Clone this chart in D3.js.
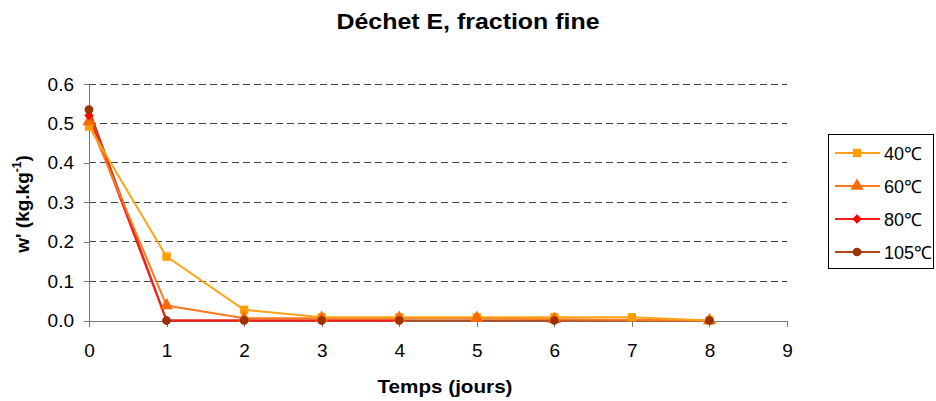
<!DOCTYPE html>
<html lang="fr">
<head>
<meta charset="UTF-8">
<title>Déchet E, fraction fine</title>
<script src="https://cdn.jsdelivr.net/npm/d3@7"></script>
<style>
  body { margin: 0; background: #fff; }
  text { font-family: "Liberation Sans", Arial, sans-serif; }
</style>
</head>
<body>
<div id="grafica"></div>
<script>
// données
jours = [0, 1, 2, 3, 4, 5, 6, 7, 8]
w40  = [0.492, 0.162, 0.027, 0.008, 0.008, 0.008, 0.008, 0.008, 0]
w60  = [0.505, 0.038, 0.006, 0.006, 0.006, 0.006, 0.003, null, 0]
w80  = [0.520, 0, 0, 0, 0, null, null, null, null]
w105 = [0.535, 0, 0, 0, 0, null, 0, null, 0]
yTicks = [0, 0.1, 0.2, 0.3, 0.4, 0.5, 0.6]
xTicks = [0, 1, 2, 3, 4, 5, 6, 7, 8, 9]

// rot: angle du symbole (le losange est un carré tourné)
series = [
  { name: '40℃',  values: w40,  line: '#FFA31A', fill: '#FF9E00', shape: d3.symbolSquare,   size: 70, rot: 0 },
  { name: '60℃',  values: w60,  line: '#FF7A1F', fill: '#FF6A00', shape: d3.symbolTriangle, size: 75, rot: 0 },
  { name: '80℃',  values: w80,  line: '#FF1A1A', fill: '#FF0000', shape: d3.symbolSquare,   size: 45, rot: 45 },
  { name: '105℃', values: w105, line: '#B5461B', fill: '#993300', shape: d3.symbolCircle,   size: 60, rot: 0 }
]

ancho_total = 936
alto_total  = 401
margin = { left: 89, right: 149, top: 84, bottom: 80.5 }
ancho = ancho_total - margin.left - margin.right
alto  = alto_total - margin.top - margin.bottom

svg = d3.select('#grafica')
  .append('svg')
  .attr('width', ancho_total)
  .attr('height', alto_total)

g = svg.append('g')
  .attr('transform', `translate(${margin.left},${margin.top})`)

x = d3.scaleLinear().domain([0, 9]).range([0, ancho])
y = d3.scaleLinear().domain([0, 0.6]).range([alto, 0])

// grille
g.selectAll('.grid')
  .data(yTicks.filter(d => d > 0))
  .enter().append('line')
  .attr('x1', 0).attr('x2', ancho)
  .attr('y1', d => y(d)).attr('y2', d => y(d))
  .attr('stroke', '#444')
  .attr('stroke-width', 1)
  .attr('stroke-dasharray', '7,4')
  .attr('shape-rendering', 'crispEdges')

// axes
yAxis = g.append('g')
  .call(d3.axisLeft(y).tickValues(yTicks).tickFormat(d3.format('.1f')).tickSizeOuter(0).tickSize(5).tickPadding(10))
xAxis = g.append('g')
  .attr('transform', `translate(0,${alto})`)
  .call(d3.axisBottom(x).tickValues(xTicks).tickSizeOuter(0).tickSize(6).tickPadding(17))
g.selectAll('.domain, .tick line').attr('stroke', '#777').attr('shape-rendering', 'crispEdges')
g.selectAll('.tick text').attr('font-size', 19).attr('fill', '#000')
  .attr('font-family', '"Liberation Sans", Arial, sans-serif')

// courbes
linea = d3.line()
  .x(d => x(d.t))
  .y(d => y(d.v))

series.slice().reverse().forEach(s => {
  pts = jours.map((t, i) => ({ t: t, v: s.values[i] })).filter(d => d.v !== null)
  g.append('path')
    .attr('fill', 'none')
    .attr('stroke', s.line)
    .attr('stroke-width', 2)
    .attr('d', linea(pts))
})
// marqueurs : 105℃ dessus, comme dans l'original
series.forEach(s => {
  pts = jours.map((t, i) => ({ t: t, v: s.values[i] })).filter(d => d.v !== null)
  g.selectAll(null)
    .data(pts)
    .enter().append('path')
    .attr('d', d3.symbol().type(s.shape).size(s.size))
    .attr('transform', d => `translate(${x(d.t)},${y(d.v)}) rotate(${s.rot})`)
    .attr('fill', s.fill)
})

// titres
svg.append('text')
  .attr('x', 468).attr('y', 29)
  .attr('text-anchor', 'middle')
  .attr('font-size', 22).attr('font-weight', 'bold')
  .attr('textLength', 263).attr('lengthAdjust', 'spacingAndGlyphs')
  .text('Déchet E, fraction fine')

svg.append('text')
  .attr('x', 445).attr('y', 393)
  .attr('text-anchor', 'middle')
  .attr('font-size', 19).attr('font-weight', 'bold')
  .attr('textLength', 135).attr('lengthAdjust', 'spacingAndGlyphs')
  .text('Temps (jours)')

yt = svg.append('text')
  .attr('transform', `translate(29,204) rotate(-90)`)
  .attr('text-anchor', 'middle')
  .attr('font-size', 19).attr('font-weight', 'bold')
yt.append('tspan').text("w' (kg.kg")
yt.append('tspan').attr('font-size', 12).attr('dy', -8).text('-1')
yt.append('tspan').attr('dy', 8).text(')')

// légende
leg = svg.append('g').attr('transform', 'translate(828,134.5)')
leg.append('rect')
  .attr('width', 105).attr('height', 133.5)
  .attr('fill', '#fff').attr('stroke', '#000')
  .attr('shape-rendering', 'crispEdges')
series.forEach((s, i) => {
  row = leg.append('g').attr('transform', `translate(0,${18.5 + i * 33})`)
  row.append('line')
    .attr('x1', 7).attr('x2', 52)
    .attr('stroke', s.line).attr('stroke-width', 2)
  row.append('path')
    .attr('d', d3.symbol().type(s.shape).size(s.size))
    .attr('transform', `translate(29,0) rotate(${s.rot})`)
    .attr('fill', s.fill)
  row.append('text')
    .attr('x', 56).attr('y', 6.5)
    .attr('font-size', 18)
    .text(s.name)
})
</script>
</body>
</html>
